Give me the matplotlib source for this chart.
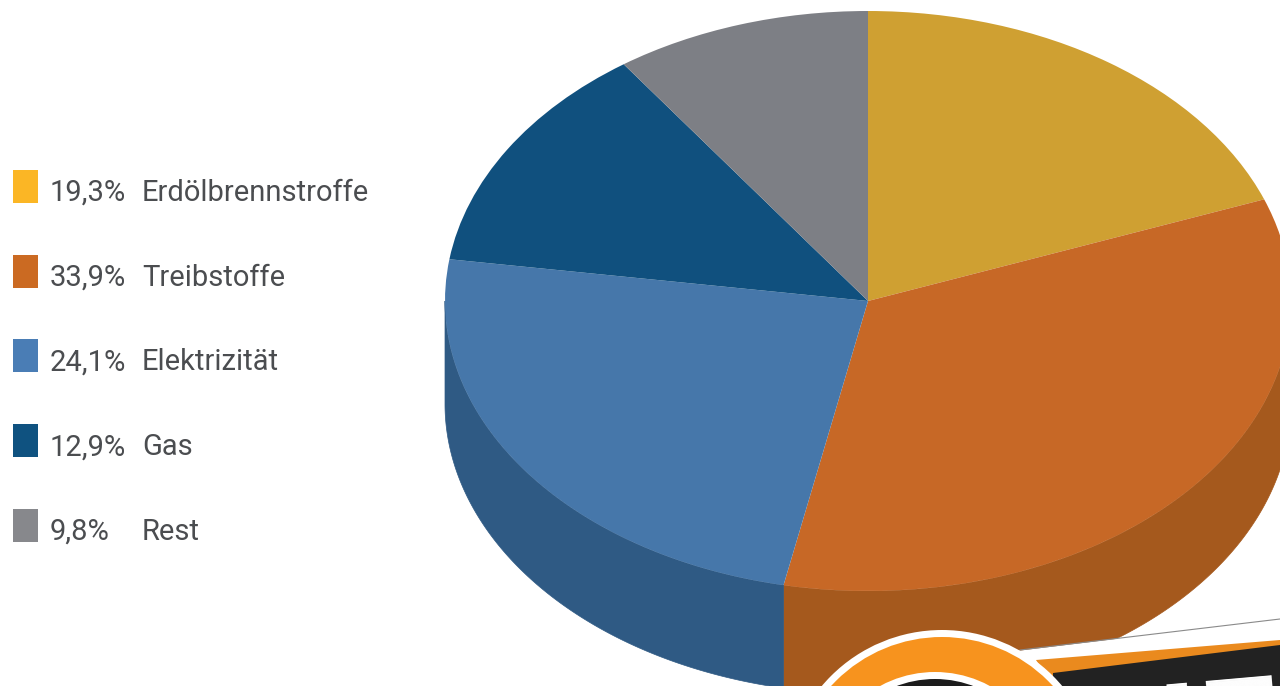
import numpy as np
from matplotlib import pyplot as plt
from matplotlib import patches

shares = [19.3, 33.9, 24.1, 12.9, 9.8]
share_labels = ["19,3%", "33,9%", "24,1%", "12,9%", "9,8%"]
names = ["Erdölbrennstroffe", "Treibstoffe", "Elektrizität", "Gas", "Rest"]
top_colors = ["#cfa032", "#c76826", "#4677aa", "#10507e", "#7d7f85"]
side_colors = ["#a8822a", "#a5591d", "#2f5a84", "#0d3f63", "#616367"]
key_colors = ["#fbb625", "#cb6a22", "#4a7db5", "#0f5280", "#87888c"]

W, H = 1280, 686
CX, CY, RX, RY = 868, 301, 423, 290
DEPTH = 103 / RY

plt.rcParams["font.family"] = ["Roboto", "Liberation Sans", "DejaVu Sans"]

fig = plt.figure(figsize=(W / 100, H / 100), dpi=100)

# pie axes: the unit circle is stretched to the tilted ellipse
ax = fig.add_axes([(CX - RX) / W, 1 - (CY + RY) / H, 2 * RX / W, 2 * RY / H])
wedges, _ = ax.pie(shares, colors=top_colors, startangle=90, counterclock=False, radius=1)
ax.set_aspect("auto")
ax.set_xlim(-1, 1)
ax.set_ylim(-1, 1)
for w in wedges:
    w.set_zorder(3)
    w.set_clip_on(False)

# side wall of the disc, only the part that faces the viewer
edges = 90 - np.cumsum([0] + shares) * 3.6
for i in range(len(shares)):
    a0 = np.radians(min(edges[i], edges[i + 1]))
    a1 = np.radians(max(edges[i], edges[i + 1]))
    a = np.linspace(a0, a1, 200)
    a = a[np.sin(a) <= 0.0]
    if len(a) == 0:
        a = np.linspace(a0, a1, 200) - 2 * np.pi
        a = a[np.sin(a) <= 0.0]
    if len(a) == 0:
        continue
    x = np.r_[np.cos(a), np.cos(a[::-1])]
    y = np.r_[np.sin(a), np.sin(a[::-1]) - DEPTH]
    ax.fill(x, y, color=side_colors[i], lw=0.5, zorder=2, clip_on=False)

# overlay in pixel coordinates for the legend and the logo corner
over = fig.add_axes([0, 0, 1, 1], facecolor="none")
over.set_xlim(0, W)
over.set_ylim(H, 0)
over.axis("off")

for i in range(len(shares)):
    y = 186 + i * 84.7
    over.add_patch(patches.Rectangle((13, y - 16), 25, 33, color=key_colors[i], lw=0))
    over.text(50, y + 7, share_labels[i], fontsize=21, color="#4b4d50", va="center", ha="left")
    over.text(142, y + 7, names[i], fontsize=21, color="#4b4d50", va="center", ha="left")

# logo sticker cut off by the lower edge
over.add_patch(patches.Polygon([(1000, 653), (1280, 619), (1280, 686), (1000, 686)], color="white", lw=0, zorder=4))
over.plot([1020, 1280], [650, 619], color="#8a8a8a", lw=0.8, zorder=5)
over.add_patch(patches.Polygon([(1036, 660), (1280, 640), (1280, 686), (1053, 686)], color="#ea8a1e", lw=0, zorder=5))
over.add_patch(patches.Polygon([(1053, 673), (1280, 645), (1280, 686), (1053, 686)], color="#222222", lw=0, zorder=6))
over.text(1075, 791, "DIE", fontsize=100, fontweight="bold", color="white", rotation=5,
          rotation_mode="anchor", ha="left", va="baseline", zorder=6.5, clip_on=True)
for r, cx, c in [(157, 942, "white"), (150, 942, "#f7931e"), (115, 935, "white"), (108, 935, "#1c1c1c")]:
    over.add_patch(patches.Circle((cx, 787), r, color=c, lw=0, zorder=7))

fig.savefig("out.png", dpi=100)
